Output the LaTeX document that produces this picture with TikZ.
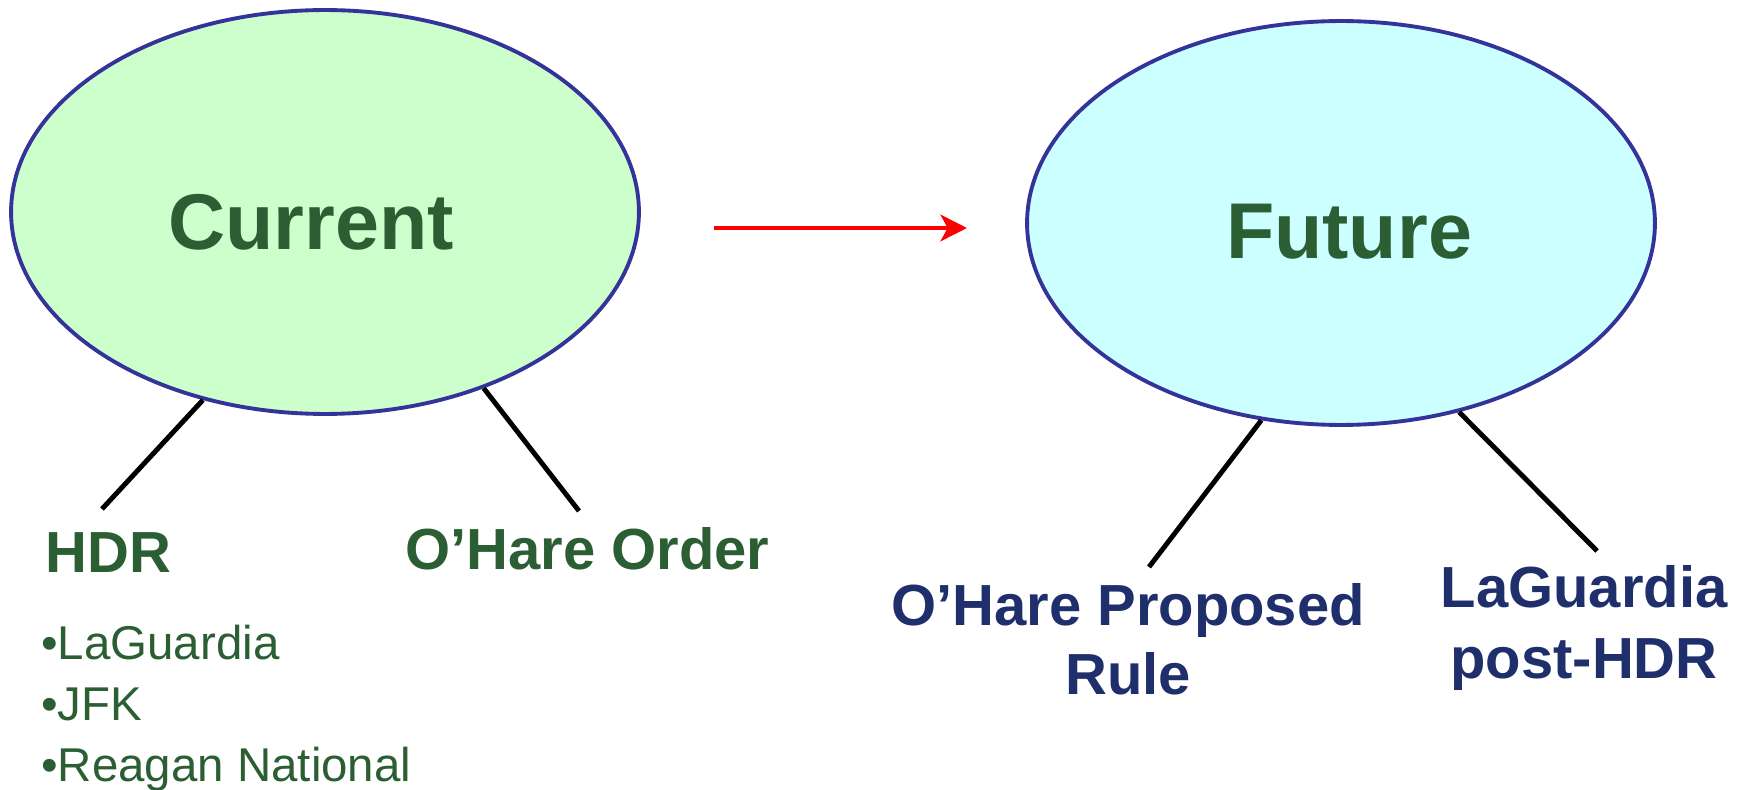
\documentclass[tikz,border=0pt]{standalone}
\usepackage{fontspec}
\setmainfont{Liberation Sans}
\usetikzlibrary{shapes.geometric,arrows.meta}
\definecolor{leafgreen}{RGB}{44,94,52}
\definecolor{navytext}{RGB}{31,47,107}
\definecolor{ringblue}{RGB}{51,51,153}
\definecolor{paleGreen}{RGB}{204,255,204}
\definecolor{paleCyan}{RGB}{204,255,255}
\begin{document}
\begin{tikzpicture}[x=0.02cm, y=-0.02cm]
    % Define styles
    \tikzset{
        bubble/.style={ellipse, draw=ringblue, line width=2.2pt, minimum width=12.56cm, minimum height=8.08cm, inner sep=0pt},
        bubbletext/.style={inner sep=0pt, text=leafgreen, font=\fontsize{45}{54}\selectfont\bfseries},
        branch/.style={line width=2.8pt, black},
        heading/.style={inner sep=0pt, text=leafgreen, font=\fontsize{33}{40}\selectfont\bfseries},
        target/.style={inner sep=0pt, align=center, text=navytext, font=\fontsize{33}{40}\selectfont\bfseries},
        arrow/.style={-{Stealth[length=15pt, width=15pt, inset=4pt]}, line width=2.8pt, red},
    }
    \useasboundingbox (0,0) rectangle (1742,790);

    % Current
    \node[bubble, fill=paleGreen] (current) at (325,212) {};
    \node[bubbletext] (currenttext) at (311,222) {Current};
    \node[heading, anchor=base west] (hdr) at (45,572) {HDR};
    \node[heading, anchor=base west] (ohare) at (405,569) {O’Hare Order};
    \node[anchor=base west, inner sep=0pt, align=left, text=leafgreen, font=\fontsize{27}{34.7}\selectfont] (airports) at (41,781) {•LaGuardia\\•JFK\\•Reagan National};

    \coordinate (hdrtop) at (102,509);
    \coordinate (oharetop) at (579,511);
    \draw[branch] (current.237) -- (hdrtop);
    \draw[branch] (current.312) -- (oharetop);

    % Future
    \node[bubble, fill=paleCyan] (future) at (1341,223) {};
    \node[bubbletext] (futuretext) at (1349,232) {Future};
    \node[target, anchor=base] (proposed) at (1128,694) {O’Hare Proposed\\[-0.9pt]Rule};
    \node[target, anchor=base] (lgapost) at (1584,678) {LaGuardia\\[0.3pt]post-HDR};

    \coordinate (proposedtop) at (1149,567);
    \coordinate (lgatop) at (1597,551);
    \draw[branch] (future.248) -- (proposedtop);
    \draw[branch] (future.302) -- (lgatop);

    % Transition
    \coordinate (arrowstart) at (714,228);
    \coordinate (arrowend) at (967,228);
    \draw[arrow] (arrowstart) -- (arrowend);
\end{tikzpicture}
\end{document}
